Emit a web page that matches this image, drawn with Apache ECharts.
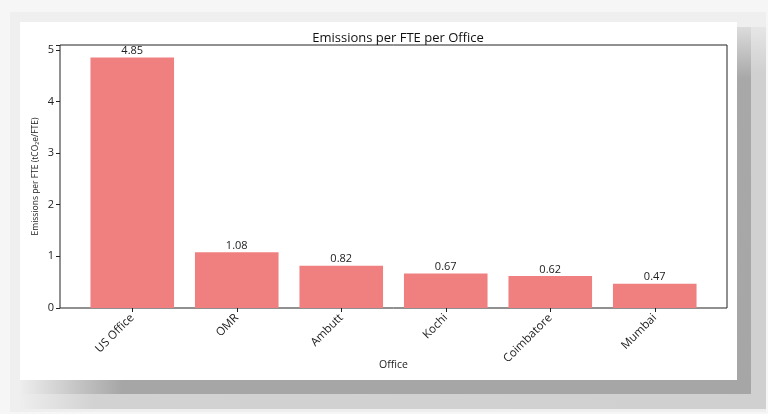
<!DOCTYPE html>
<html>
<head>
<meta charset="utf-8">
<script src="https://cdn.jsdelivr.net/npm/echarts@6/dist/echarts.min.js"></script>
<style>
  html, body { margin: 0; padding: 0; background: #f6f6f6; }
  #main { width: 768px; height: 414px; }
</style>
</head>
<body>
<div id="main"></div>
<script>
// offices and emissions per FTE (tCO2e/FTE)
var offices = ['US Office', 'OMR', 'Ambutt', 'Kochi', 'Coimbatore', 'Mumbai'];
var emissions = [4.85, 1.08, 0.82, 0.67, 0.62, 0.47];
var yTicks = [0, 1, 2, 3, 4, 5];

var FONT = 'Open Sans';

var myChart = echarts.init(document.getElementById('main'));

// card + blurred shadow behind the plot (decoration only)
var decor = [
    { type: 'rect', shape: { x: 10, y: 12, width: 756, height: 400 }, style: { fill: '#efefef' }, z: -10 },
    { type: 'rect', shape: { x: 751, y: 27, width: 15, height: 382 },
      style: { fill: new echarts.graphic.LinearGradient(0, 0, 0, 1, [
        { offset: 0, color: '#e6e6e6' }, { offset: 0.12, color: '#d0d0d0' }, { offset: 1, color: '#d0d0d0' }]) }, z: -9 },
    { type: 'rect', shape: { x: 20, y: 394, width: 746, height: 15 },
      style: { fill: new echarts.graphic.LinearGradient(0, 0, 1, 0, [
        { offset: 0, color: '#eeeeee' }, { offset: 0.1, color: '#d2d2d2' }, { offset: 1, color: '#d0d0d0' }]) }, z: -9 },
    { type: 'rect', shape: { x: 737, y: 27, width: 14, height: 367 },
      style: { fill: new echarts.graphic.LinearGradient(0, 0, 0, 1, [
        { offset: 0, color: '#dcdcdc' }, { offset: 0.14, color: '#a8a8a8' }, { offset: 1, color: '#a6a6a6' }]) }, z: -8 },
    { type: 'rect', shape: { x: 20, y: 380, width: 731, height: 14 },
      style: { fill: new echarts.graphic.LinearGradient(0, 0, 1, 0, [
        { offset: 0, color: '#eeeeee' }, { offset: 0.08, color: '#c4c4c4' }, { offset: 0.14, color: '#a6a6a6' }, { offset: 1, color: '#a6a6a6' }]) }, z: -8 },
    { type: 'rect', shape: { x: 20, y: 22, width: 717, height: 358 }, style: { fill: '#ffffff' }, z: -7 }
];

myChart.setOption({
    backgroundColor: 'transparent',
    animation: false,
    textStyle: { fontFamily: FONT },
    graphic: decor,
    title: {
        text: 'Emissions per FTE per Office',
        left: 393,
        textAlign: 'center',
        top: 27,
        textStyle: { fontFamily: FONT, fontSize: 13, fontWeight: 'normal', color: '#111' }
    },
    grid: [
        // frame box
        { left: 60, right: 41, top: 45, bottom: 106, show: true, borderColor: '#222', borderWidth: 1, backgroundColor: 'transparent' },
        // data area (matplotlib-style margins inside the frame)
        { left: 80, right: 61, top: 45, bottom: 106 }
    ],
    xAxis: [
        { gridIndex: 0, type: 'value', show: false },
        {
            gridIndex: 1,
            type: 'category',
            data: offices,
            name: 'Office',
            nameLocation: 'middle',
            nameGap: 52,
            nameMoveOverlap: false,
            nameTextStyle: { fontFamily: FONT, fontSize: 10.5, color: '#222' },
            axisLine: { show: false },
            axisTick: { show: true, alignWithLabel: true, length: 4, lineStyle: { color: '#222' } },
            axisLabel: { rotate: 45, margin: 8, fontFamily: FONT, fontSize: 11.5, color: '#222' },
            splitLine: { show: false }
        }
    ],
    yAxis: [
        { gridIndex: 0, type: 'value', show: false },
        {
            gridIndex: 1,
            type: 'value',
            min: 0,
            max: 5.0925,
            interval: 1,
            offset: 20,
            name: 'Emissions per FTE (tCO₂e/FTE)',
            nameLocation: 'middle',
            nameGap: 20,
            nameMoveOverlap: false,
            nameTextStyle: { fontFamily: FONT, fontSize: 8.5, color: '#222' },
            axisLine: { show: false },
            axisTick: { show: true, length: 4, lineStyle: { color: '#222' } },
            axisLabel: {
                margin: 6, fontFamily: FONT, fontSize: 11, color: '#222',
                formatter: function (v) { return yTicks.indexOf(v) >= 0 ? String(v) : ''; }
            },
            splitLine: { show: false }
        }
    ],
    series: [
        {
            type: 'bar',
            xAxisIndex: 1,
            yAxisIndex: 1,
            data: emissions,
            barWidth: '80%',
            itemStyle: { color: '#F08080' },
            label: {
                show: true,
                position: 'top',
                distance: 1,
                fontFamily: FONT,
                fontSize: 11,
                color: '#222',
                formatter: function (p) { return p.value.toFixed(2); }
            }
        }
    ]
});
</script>
</body>
</html>
